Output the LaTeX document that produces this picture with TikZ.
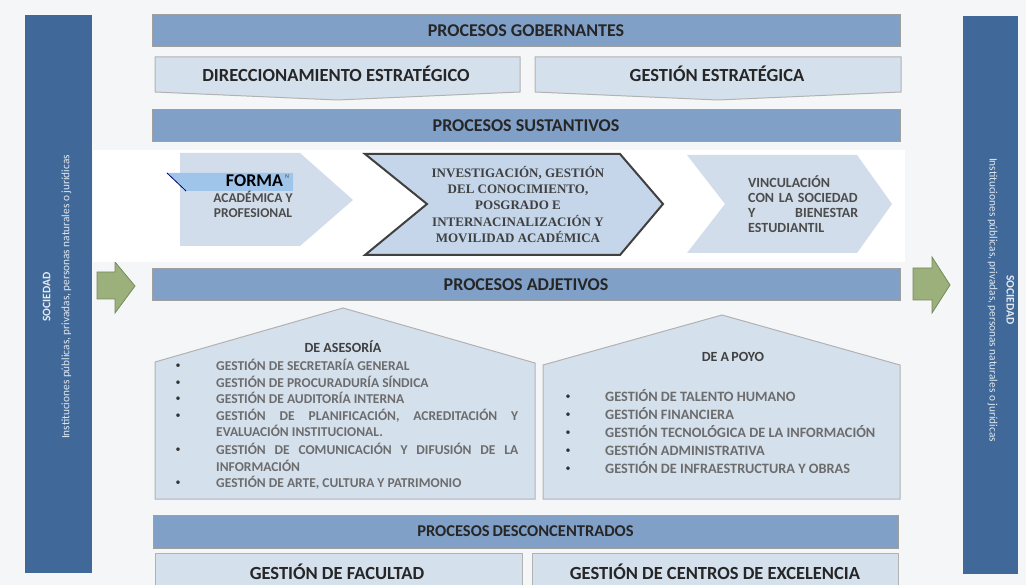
\documentclass[tikz,border=0pt]{standalone}
\usepackage{fontspec}
\setmainfont{Carlito}
\newfontfamily\serifbold{Liberation Serif}
\usepackage{xcolor}
\usepackage{tikz}
\usetikzlibrary{positioning}

\definecolor{fondo}{RGB}{245,246,247}
\definecolor{sociedad}{RGB}{64,105,153}
\definecolor{barracolor}{RGB}{129,160,199}
\definecolor{cajacolor}{RGB}{213,224,237}
\definecolor{chevcolor}{RGB}{210,221,235}
\definecolor{investcolor}{RGB}{197,214,234}
\definecolor{flechacolor}{RGB}{155,176,122}
\definecolor{flechaborde}{RGB}{118,138,92}
\definecolor{formacolor}{RGB}{160,197,234}
\definecolor{textogris}{RGB}{108,108,108}

\begin{document}
\begin{tikzpicture}[x=1pt,y=-1pt,
	barra/.style={rectangle,draw=gray!75,fill=barracolor,line width=1pt,minimum width=748pt,minimum height=32pt,inner sep=0pt,text=black!85,font={\bfseries\fontsize{18}{18}\selectfont}},
	caja/.style={draw=gray!60,fill=cajacolor,line width=1pt},
	titulo/.style={inner sep=0pt,text=black!85,font={\bfseries\fontsize{18.5}{18.5}\selectfont}},
	itemtexto/.style={anchor=base west,inner sep=0pt,text=textogris,font={\bfseries\fontsize{13.5}{16.5}\selectfont}},
	punto/.style={inner sep=0pt,text=black!80,font={\fontsize{10}{10}\selectfont}},
	flechaverde/.style={draw=flechaborde,fill=flechacolor,line width=0.8pt}]
	\useasboundingbox (0,0) rectangle (1026,585);
	\clip (0,0) rectangle (1026,585);
	\fill[fondo] (0,0) rectangle (1026,585);
	
	% sociedad
	\fill[sociedad] (25,15) rectangle (92,573);
	\fill[sociedad] (963,16) rectangle (1018,574);
	\node[rotate=90,align=center,text=white!85!sociedad,font={\fontsize{11.3}{19}\selectfont}] 
	(socizq) at (57,297) {{\bfseries\fontsize{11.5}{19}\selectfont SOCIEDAD}\\Instituciones públicas, privadas, personas naturales o jurídicas};
	\node[rotate=-90,align=center,text=white!85!sociedad,font={\fontsize{11.3}{17}\selectfont}] 
	(socder) at (1001,300) {{\bfseries\fontsize{11.5}{17}\selectfont SOCIEDAD}\\Instituciones públicas, privadas, personas naturales o jurídicas};
	
	\draw[flechaverde] (97,272)--(115,272)--(115,262)--(135,286)--(115,313)--(115,299)--(97,299)--cycle;
	\draw[flechaverde] (913,268)--(932,268)--(932,257)--(950,285)--(932,313)--(932,300)--(913,300)--cycle;
	
	\foreach \i/\y/\name in {1/31/PROCESOS GOBERNANTES,2/126/PROCESOS SUSTANTIVOS,3/284.5/PROCESOS ADJETIVOS}{
		\node[barra] (p\i) at (526,\y) {\name};
	}
	\node[barra,minimum width=745pt,minimum height=33pt,font={\bfseries\fontsize{16.5}{16.5}\selectfont}] 
	(p4) at (525.5,531.5) {PROCESOS\,DESCONCENTRADOS};
	
	% gobernantes
	\draw[caja] (155,57)--(520,57)--(520,92)--(337.5,100)--(155,92)--cycle;
	\draw[caja] (535,57)--(901,57)--(901,92)--(718,100)--(535,92)--cycle;
	\node[titulo] (dir) at (336,74) {DIRECCIONAMIENTO ESTRATÉGICO};
	\node[titulo] (gest) at (717,74) {GESTIÓN ESTRATÉGICA};
	
	% sustantivos
	\fill[white] (93,150) rectangle (905,262);
	\fill[chevcolor] (180,153)--(300,153)--(353,200)--(300,246)--(180,246)--cycle;
	\draw[fill=investcolor,draw=black!75,line width=2pt] (365,154)--(620,154)--(663,204)--(620,255)--(365,255)--(427,204)--cycle;
	\fill[chevcolor] (687,155)--(857,155)--(892,204)--(857,253)--(687,253)--(725,204)--cycle;
	
	\fill[formacolor] (167,173)--(293,173)--(293,191)--(186,191)--cycle;
	\draw[color=black!55!blue,line width=0.8pt] (167,173)--(186,191);
	\node[inner sep=0pt,text=black,font={\bfseries\fontsize{18}{18}\selectfont}] (forma) at (254.5,181) {FORMA};
	\node[inner sep=0pt,text=textogris,font={\bfseries\fontsize{6}{6}\selectfont}] (forman) at (287,177) {N};
	\node[align=center,inner sep=0pt,text=black!70,font={\bfseries\fontsize{13.5}{15}\selectfont}] 
	(formtxt) at (253,204.5) {ACADÉMICA Y\\PROFESIONAL};
	
	\node[align=center,inner sep=0pt,text=black!75,font={\serifbold\bfseries\fontsize{13}{16.3}\selectfont}] 
	(invest) at (518,204.5) {INVESTIGACIÓN, GESTIÓN\\DEL CONOCIMIENTO,\\POSGRADO E\\INTERNACINALIZACIÓN Y\\MOVILIDAD ACADÉMICA};
	
	\node[anchor=west,align=left,text width=110pt,inner sep=0pt,text=black!70,font={\bfseries\fontsize{14}{15}\selectfont}] 
	(vinc) at (748,204.5) {VINCULACIÓN\\CON LA SOCIEDAD\\Y \hfill BIENESTAR\\ESTUDIANTIL};
	
	% adjetivos
	\draw[caja] (155,499)--(155,362)--(343,308)--(535,363)--(535,499)--cycle;
	\draw[caja] (543,499)--(543,365)--(722,315)--(900,365)--(900,499)--cycle;
	\node[inner sep=0pt,text=black!75,font={\bfseries\fontsize{14}{14}\selectfont}] (ases) at (343,347) {DE ASESORÍA};
	\node[inner sep=0pt,text=black!75,font={\bfseries\fontsize{14}{14}\selectfont}] (apoyo) at (733,357) {DE A\,POYO};
	
	\foreach \i/\y/\txt in {1/366/{GESTIÓN DE SECRETARÍA GENERAL},2/383/{GESTIÓN DE PROCURADURÍA SÍNDICA},3/399/{GESTIÓN DE AUDITORÍA INTERNA},4/416/{GESTIÓN DE PLANIFICACIÓN, ACREDITACIÓN Y\linebreak EVALUACIÓN INSTITUCIONAL.},5/450/{GESTIÓN DE COMUNICACIÓN Y DIFUSIÓN DE LA\linebreak INFORMACIÓN},6/483/{GESTIÓN DE ARTE, CULTURA Y PATRIMONIO}}{
		\node[punto] (ba\i) at (178,\y) {\textbullet};
		\node[itemtexto,text width=302pt,align=justify] (a\i) at (216,\y+4.5) {\txt};
	}
	
	\foreach \i/\y/\txt in {1/397/{GESTIÓN DE TALENTO HUMANO},2/415/{GESTIÓN FINANCIERA},3/433/{GESTIÓN TECNOLÓGICA DE LA INFORMACIÓN},4/451/{GESTIÓN ADMINISTRATIVA},5/469/{GESTIÓN DE INFRAESTRUCTURA Y OBRAS}}{
		\node[punto] (bp\i) at (568,\y) {\textbullet};
		\node[itemtexto,font={\bfseries\fontsize{14.3}{14.3}\selectfont}] (ap\i) at (605,\y+4.5) {\txt};
	}
	
	% desconcentrados
	\draw[caja] (155,553) rectangle (522,600);
	\draw[caja] (532,553) rectangle (898,600);
	\node[titulo] (fac) at (337,572) {GESTIÓN DE FACULTAD};
	\node[titulo] (cen) at (715,572) {GESTIÓN DE CENTROS DE EXCELENCIA};
\end{tikzpicture}
\end{document}
